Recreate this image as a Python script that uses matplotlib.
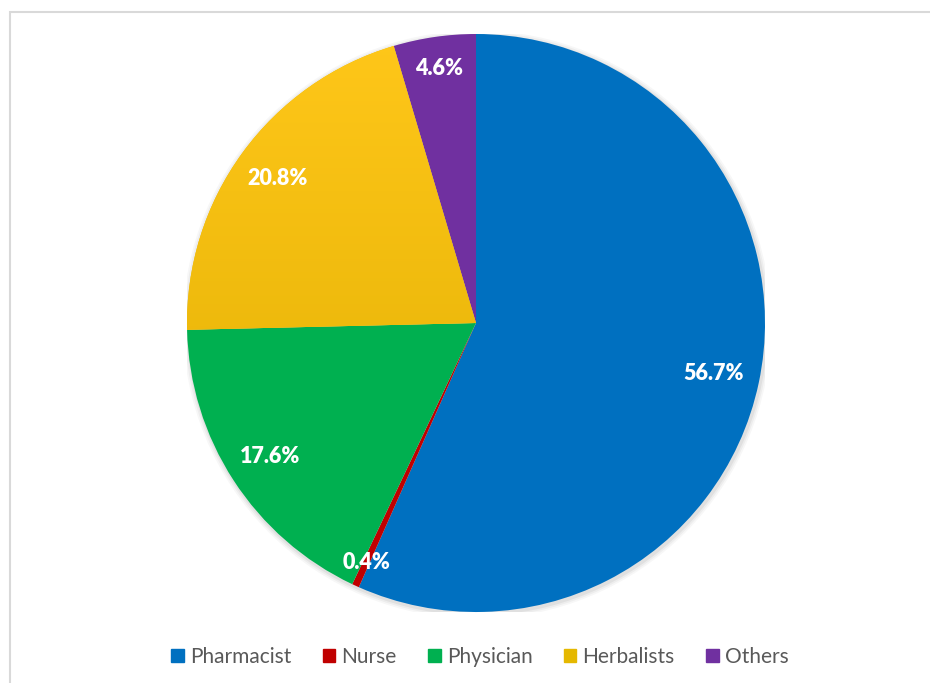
import numpy as np
import matplotlib.pyplot as plt
from matplotlib.patches import Rectangle, Circle

# share of respondents by source
categories = ['Pharmacist', 'Nurse', 'Physician', 'Herbalists', 'Others']
shares = [56.7, 0.4, 17.6, 20.8, 4.6]
colors = ['#0070C0', '#C00000', '#00B050', '#F2BC00', '#7030A0']
label_radius = [0.84, 0.91, 0.85, 0.85, 0.89]

plt.rcParams['font.family'] = ['Lato', 'DejaVu Sans']

fig = plt.figure(figsize=(9.3, 6.83), dpi=100)
cx, cy, r = 476, 323, 289
ax = fig.add_axes([(cx - r) / 930, (683 - cy - r) / 683, 2 * r / 930, 2 * r / 683])

# soft shadow around the pie
for i, a in enumerate([0.05, 0.04, 0.03]):
    ax.add_patch(Circle((0.004, -0.006), 1.0 + 0.006 * (i + 1), color='black',
                        alpha=a, lw=0, zorder=0))

wedges, _ = ax.pie(shares, colors=colors, startangle=90, counterclock=False,
                   radius=1.0, center=(0, 0), frame=True,
                   wedgeprops=dict(linewidth=0))
for w in wedges:
    w.set_zorder(2)

# vertical gradient on the Herbalists slice
grad = np.linspace(0, 1, 256).reshape(-1, 1)
top = np.array([1.0, 0.78, 0.10])
bot = np.array([0.87, 0.68, 0.0])
img = top + (bot - top) * grad[..., None] * np.ones((1, 2, 1))
im = ax.imshow(img, extent=(-1, 1, -1, 1), origin='upper', zorder=3,
               interpolation='bilinear', aspect='auto')
im.set_clip_path(wedges[3])
ax.set_xlim(-1, 1)
ax.set_ylim(-1, 1)
ax.set_aspect('equal')
ax.axis('off')

# percentage labels
for w, v, d in zip(wedges, shares, label_radius):
    ang = np.deg2rad((w.theta1 + w.theta2) / 2)
    ax.text(d * np.cos(ang), d * np.sin(ang), f'{v:.1f}%', color='white',
            fontsize=15.5, fontweight='heavy', ha='center', va='center', zorder=5)

# chart border
fig.patches.append(Rectangle((9.5 / 930, -0.1), 1.0, (683 - 12.5) / 683 + 0.1,
                             transform=fig.transFigure, fill=False,
                             edgecolor='#d9d9d9', linewidth=1.5))

handles = [Rectangle((0, 0), 1, 1, color=c) for c in colors]
handles[3] = Rectangle((0, 0), 1, 1, color='#E5B800')
fig.legend(handles, categories, loc='center', bbox_to_anchor=(480 / 930, 1 - 657 / 683),
           ncol=5, frameon=False, fontsize=15, handlelength=0.6, handleheight=0.6,
           handletextpad=0.3, columnspacing=1.5, labelcolor='#595959')

fig.savefig('out.png', dpi=100, facecolor='white')
